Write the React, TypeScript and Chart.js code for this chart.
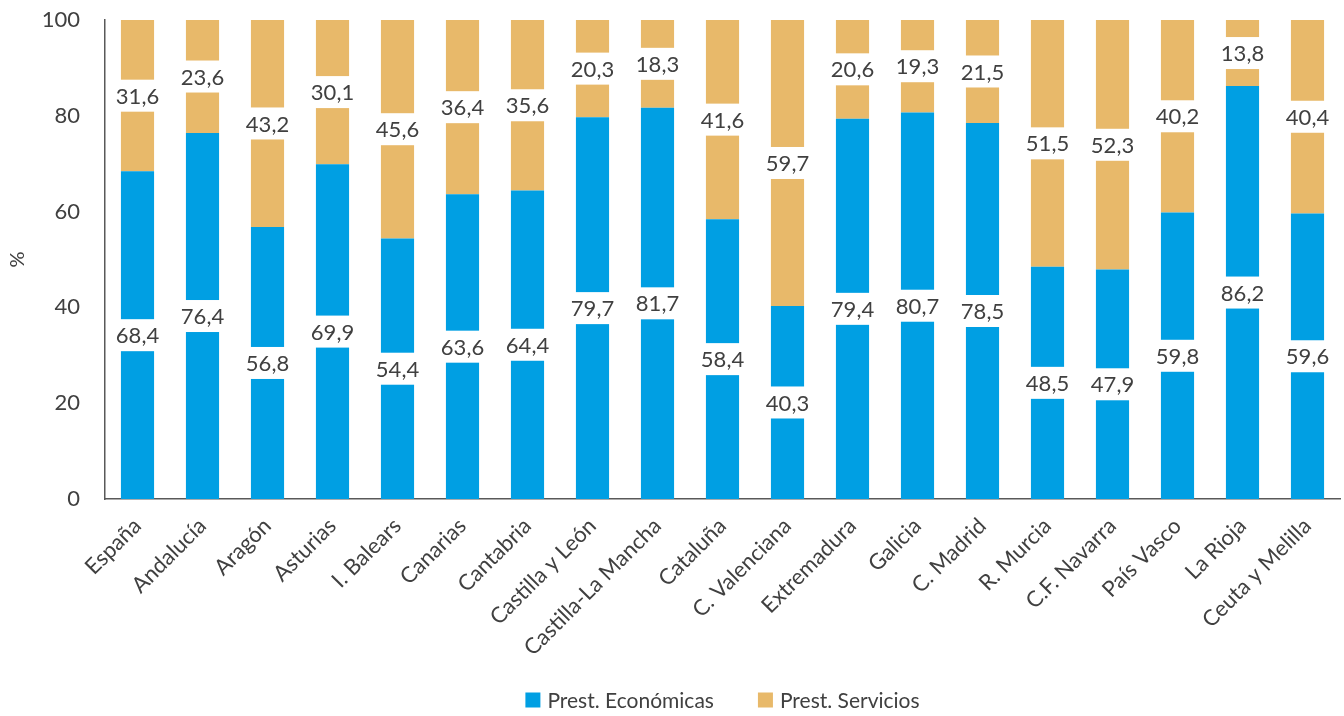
import React, { useEffect, useRef } from "react";
import { Chart, registerables } from "chart.js";

Chart.register(...registerables);

const categories = [
  "España", "Andalucía", "Aragón", "Asturias", "I. Balears", "Canarias", "Cantabria",
  "Castilla y León", "Castilla-La Mancha", "Cataluña", "C. Valenciana", "Extremadura",
  "Galicia", "C. Madrid", "R. Murcia", "C.F. Navarra", "País Vasco", "La Rioja", "Ceuta y Melilla",
];
const prestEconomicas = [68.4, 76.4, 56.8, 69.9, 54.4, 63.6, 64.4, 79.7, 81.7, 58.4, 40.3, 79.4, 80.7, 78.5, 48.5, 47.9, 59.8, 86.2, 59.6];
const prestServicios = [31.6, 23.6, 43.2, 30.1, 45.6, 36.4, 35.6, 20.3, 18.3, 41.6, 59.7, 20.6, 19.3, 21.5, 51.5, 52.3, 40.2, 13.8, 40.4];
const yTicks = [0, 20, 40, 60, 80, 100];
const seriesNames = ["Prest. Económicas", "Prest. Servicios"];

const FONT = "Lato, 'Open Sans', sans-serif";
const TEXT = "#404040";
const BLUE = "#009FE3";
const GOLD = "#E8B96A";

const fmt = (v: number) => v.toFixed(1).replace(".", ",");

const valueLabels = {
  id: "valueLabels",
  afterDatasetsDraw(chart: any) {
    const ctx = chart.ctx;
    ctx.save();
    ctx.font = `22px ${FONT}`;
    ctx.textAlign = "center";
    ctx.textBaseline = "middle";
    chart.data.datasets.forEach((ds: any, di: number) => {
      const meta = chart.getDatasetMeta(di);
      meta.data.forEach((el: any, i: number) => {
        const v = ds.data[i];
        const yTop = Math.max(el.y, chart.chartArea.top);
        const y = (yTop + el.base) / 2;
        const t = fmt(v);
        const w = ctx.measureText(t).width + 4;
        ctx.fillStyle = "#ffffff";
        ctx.fillRect(el.x - w / 2, y - 16, w, 32);
        ctx.fillStyle = TEXT;
        ctx.fillText(t, el.x, y + 1);
      });
    });
    ctx.restore();
  },
};

const bottomLegend = {
  id: "bottomLegend",
  afterDraw(chart: any) {
    const ctx = chart.ctx;
    ctx.save();
    ctx.font = `21px ${FONT}`;
    ctx.textBaseline = "middle";
    ctx.textAlign = "left";
    const box = 15, gap = 7, itemGap = 44;
    const items = chart.data.datasets.map((d: any) => ({ label: d.label, color: d.backgroundColor }));
    const widths = items.map((it: any) => box + gap + ctx.measureText(it.label).width);
    const total = widths.reduce((a: number, b: number) => a + b, 0) + itemGap * (items.length - 1);
    const cx = (chart.chartArea.left + chart.chartArea.right) / 2;
    let x = cx - total / 2;
    const y = 700;
    items.forEach((it: any, i: number) => {
      ctx.fillStyle = it.color;
      ctx.fillRect(x, y - box / 2, box, box);
      ctx.fillStyle = TEXT;
      ctx.fillText(it.label, x + box + gap, y + 1);
      x += widths[i] + itemGap;
    });
    ctx.restore();
  },
};

export default function App() {
  const ref = useRef<HTMLCanvasElement>(null);
  useEffect(() => {
    document.body.style.margin = "0";
    const chart = new Chart(ref.current!, {
      type: "bar",
      data: {
        labels: categories,
        datasets: [
          { label: seriesNames[0], data: prestEconomicas, backgroundColor: BLUE, barPercentage: 0.51, categoryPercentage: 1 },
          { label: seriesNames[1], data: prestServicios, backgroundColor: GOLD, barPercentage: 0.51, categoryPercentage: 1 },
        ],
      },
      options: {
        animation: false,
        responsive: false,
        layout: { padding: { top: 20, bottom: 57, left: 0, right: 4 } },
        plugins: { legend: { display: false }, tooltip: { enabled: false } },
        scales: {
          x: {
            stacked: true,
            grid: { display: false, drawTicks: false },
            border: { display: true, color: "#595959", width: 1.5 },
            ticks: {
              autoSkip: false,
              maxRotation: 45,
              minRotation: 45,
              padding: 14,
              color: TEXT,
              font: { family: FONT, size: 22 },
            },
            afterFit: (s: any) => { s.height = 160; },
          },
          y: {
            stacked: true,
            min: 0,
            max: 100,
            afterBuildTicks: (s: any) => { s.ticks = yTicks.map((v) => ({ value: v })); },
            grid: { display: false, drawTicks: false },
            border: { display: true, color: "#595959", width: 1.5 },
            ticks: { padding: 25, color: TEXT, font: { family: FONT, size: 22 } },
            title: { display: true, text: "%", color: TEXT, font: { family: FONT, size: 20 }, padding: { top: 6, bottom: 0 } },
            afterFit: (s: any) => { s.width = 105; s.paddingTop = 0; s.paddingBottom = 0; },
          },
        },
      },
      plugins: [valueLabels, bottomLegend],
    });
    return () => chart.destroy();
  }, []);
  return <canvas ref={ref} width={1344} height={716} style={{ display: "block" }} />;
}
